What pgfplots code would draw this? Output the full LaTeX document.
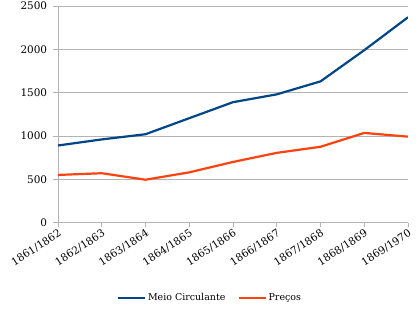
\documentclass[border=0pt]{standalone}
\usepackage{fontspec}
\setmainfont{DejaVu Serif}
\usepackage{pgfplots}
\pgfplotsset{compat=1.18}
\definecolor{mcblue}{HTML}{004586}
\definecolor{precos}{HTML}{FF420E}
\definecolor{gridgray}{HTML}{B3B3B3}
\begin{document}
\fontsize{9.5}{11}\selectfont
\begin{tikzpicture}
\begin{axis}[
  at={(0,0)}, anchor=south west,
  scale only axis, width=350bp, height=216.6bp,
  xmin=0, xmax=8, ymin=0, ymax=2500,
  xtick={0,1,2,3,4,5,6,7,8},
  xticklabels={1861/1862,1862/1863,1863/1864,1864/1865,1865/1866,1866/1867,1867/1868,1868/1869,1869/1970},
  xticklabel style={rotate=33, anchor=north east, inner sep=1bp, font=\fontsize{10.5}{12}\selectfont},
  ytick={0,500,1000,1500,2000,2500},
  yticklabels={0,500,1000,1500,2000,2500},
  yticklabel style={font=\fontsize{10.5}{12}\selectfont},
  yticklabel shift=3bp,
  ymajorgrids, grid style={color=gridgray, line width=0.8bp},
  axis x line*=bottom, axis y line*=left,
  axis line style={gridgray, line width=0.8bp, -},
  tick style={gridgray, line width=0.8bp},
  tick align=outside, major tick length=4.5bp,
  legend style={at={(0.434,-0.348)}, anchor=center, draw=none, fill=none,
    legend columns=2, font=\fontsize{9.5}{11}\selectfont,
    /tikz/every even column/.append style={column sep=10bp}},
  legend image code/.code={\draw[#1] (0bp,0bp) -- (27bp,0bp);},
]
\addplot[mcblue, line width=2.2bp] coordinates {
(0,890) (1,960) (2,1020) (3,1205) (4,1390) (5,1480) (6,1630) (7,1990) (8,2370)};
\addlegendentry{Meio Circulante}
\addplot[precos, line width=2.2bp] coordinates {
(0,550) (1,570) (2,495) (3,580) (4,700) (5,805) (6,875) (7,1035) (8,992)};
\addlegendentry{Preços}
\end{axis}
\pgfresetboundingbox
\path (-58bp,-89.4bp) rectangle (362bp,222.6bp);
\end{tikzpicture}
\end{document}
